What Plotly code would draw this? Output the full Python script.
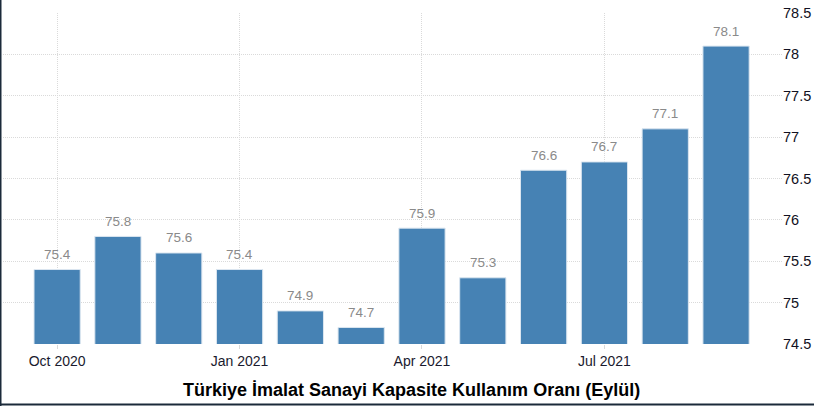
import plotly.graph_objects as go

months = ["Oct 2020", "Nov 2020", "Dec 2020", "Jan 2021", "Feb 2021", "Mar 2021",
          "Apr 2021", "May 2021", "Jun 2021", "Jul 2021", "Aug 2021", "Sep 2021"]
values = [75.4, 75.8, 75.6, 75.4, 74.9, 74.7, 75.9, 75.3, 76.6, 76.7, 77.1, 78.1]
tick_labels = ["Oct 2020", "Jan 2021", "Apr 2021", "Jul 2021"]
y_ticks = [74.5, 75, 75.5, 76, 76.5, 77, 77.5, 78, 78.5]
title = "Türkiye İmalat Sanayi Kapasite Kullanım Oranı (Eylül)"

font = "Arial, Liberation Sans, sans-serif"
xpos = list(range(len(months)))
tick_pos = [months.index(t) for t in tick_labels]

fig = go.Figure()
fig.add_trace(go.Bar(
    x=xpos, y=values, width=0.76,
    marker=dict(color="#4682B4", line=dict(color="#dbe6f0", width=1)),
    hoverinfo="skip",
))

for x, v in zip(xpos, values):
    fig.add_annotation(x=x, y=v, text=f"{v:g}", showarrow=False,
                       yanchor="middle", yshift=15,
                       font=dict(family=font, size=13.5, color="#8a8a8a"))

fig.add_annotation(xref="paper", yref="paper", x=0.525, y=-0.14,
                   text=f"<b>{title}</b>", showarrow=False,
                   xanchor="center", yanchor="middle",
                   font=dict(family=font, size=18, color="#000000"))

# frame edges (left, bottom)
fig.add_shape(type="line", xref="paper", yref="paper",
              x0=-0.0032, x1=-0.0032, y0=-0.2, y1=1.05,
              line=dict(color="#1b2a3a", width=2))
fig.add_shape(type="line", xref="paper", yref="paper",
              x0=-0.01, x1=1.05, y0=-0.1825, y1=-0.1825,
              line=dict(color="#1b2a3a", width=2))

grid = dict(showgrid=True, gridcolor="#dadada", griddash="1px,1px", gridwidth=1)

fig.update_layout(
    width=814, height=406,
    margin=dict(l=3, r=32, t=13, b=62),
    paper_bgcolor="white", plot_bgcolor="white",
    showlegend=False,
    font=dict(family=font),
    xaxis=dict(
        range=[-0.89, 11.92],
        tickvals=tick_pos, ticktext=tick_labels,
        ticks="outside", ticklen=4, tickcolor="#dadada",
        tickfont=dict(family=font, size=14, color="#1a1a2e"),
        zeroline=False, showline=False, **grid,
    ),
    yaxis=dict(
        side="right", range=[74.5, 78.5], tickvals=y_ticks,
        ticktext=[f"{t:g}" for t in y_ticks],
        tickfont=dict(family=font, size=14.5, color="#111122"),
        zeroline=False, showline=False, ticks="", **grid,
    ),
)

fig.write_html("out.html", config={"displayModeBar": False},
               post_script="document.body.style.margin='0';")
